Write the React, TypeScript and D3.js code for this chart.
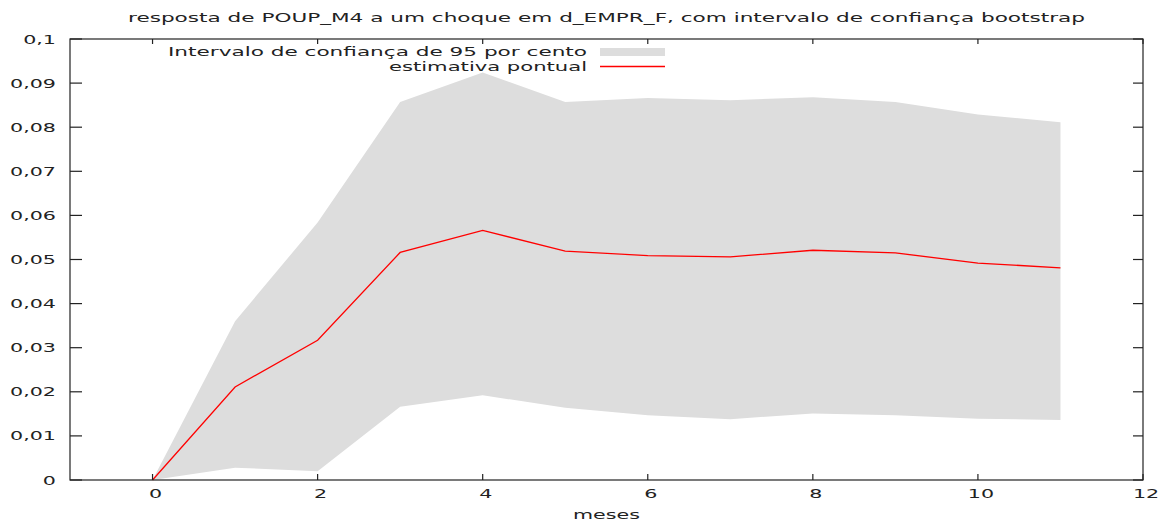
import React from 'react';
import * as d3 from 'd3';

// horizons (meses) and the bootstrap response
const meses = [0, 1, 2, 3, 4, 5, 6, 7, 8, 9, 10, 11];
const estimativa = [0, 0.0211, 0.0317, 0.0516, 0.0566, 0.0519, 0.0509, 0.0506, 0.0521, 0.0515, 0.0492, 0.0481];
const superior = [0, 0.0360, 0.0584, 0.0857, 0.0924, 0.0857, 0.0866, 0.0861, 0.0868, 0.0857, 0.0829, 0.0811];
const inferior = [0, 0.0028, 0.0020, 0.0166, 0.0192, 0.0164, 0.0147, 0.0138, 0.0151, 0.0147, 0.0139, 0.0136];
const xTicks = [0, 2, 4, 6, 8, 10, 12];

const TITLE = 'resposta de POUP_M4 a um choque em d_EMPR_F, com intervalo de confiança bootstrap';
const LEG_BAND = 'Intervalo de confiança de 95 por cento';
const LEG_LINE = 'estimativa pontual';

const W = 1167;
const H = 521;
const margin = { top: 39, right: 24, bottom: 41, left: 70 };
const FONT = '"DejaVu Sans", Verdana, sans-serif';
const TXT = '#222';
const SX = 1.65; // the picture is stretched horizontally

const fmtY = (v: number) => String(+v.toFixed(2)).replace('.', ',');

const App = () => {
  const x = d3.scaleLinear().domain([-1, 12]).range([margin.left, W - margin.right]);
  const y = d3.scaleLinear().domain([0, 0.1]).range([H - margin.bottom, margin.top]);
  const x0 = x.range()[0], x1 = x.range()[1];
  const y0 = y.range()[0], y1 = y.range()[1];

  const rows = meses.map((m, i) => ({ m, est: estimativa[i], lo: inferior[i], hi: superior[i] }));

  const band = d3.area<any>()
    .x(d => x(d.m))
    .y0(d => y(d.lo))
    .y1(d => y(d.hi))(rows);

  const line = d3.line<any>()
    .x(d => x(d.m))
    .y(d => y(d.est))(rows);

  const yTicks = y.ticks(10);

  // stretched label, anchored at (tx, ty)
  const label = (key: string, tx: number, ty: number, s: string, anchor: string) => (
    <g key={key} transform={`translate(${tx},${ty}) scale(${SX},1)`}>
      <text textAnchor={anchor} fontSize={12.5} fill={TXT} fontFamily={FONT}>{s}</text>
    </g>
  );

  return (
    <div style={{ position: 'absolute', left: 0, top: 0 }}>
      <svg width={W} height={H} style={{ display: 'block', background: '#fff' }}>
        <text x={(x0 + x1) / 2} y={22} textAnchor="middle" fontSize={12.5} fill={TXT}
          fontFamily={FONT} textLength={957} lengthAdjust="spacingAndGlyphs">{TITLE}</text>

        <path d={band || ''} fill="#dddddd" />
        <path d={line || ''} fill="none" stroke="#ff0000" strokeWidth={1.3} />

        {/* border */}
        <rect x={x0} y={y1} width={x1 - x0} height={y0 - y1} fill="none" stroke="#222" strokeWidth={1.2} />

        {/* y ticks, mirrored */}
        {yTicks.map(t => (
          <g key={'y' + t}>
            <line x1={x0} x2={x0 + 12} y1={y(t)} y2={y(t)} stroke="#222" strokeWidth={1.2} />
            <line x1={x1} x2={x1 - 10} y1={y(t)} y2={y(t)} stroke="#222" strokeWidth={1.2} />
            {label('yl' + t, 56, y(t) + 4.5, fmtY(t), 'end')}
          </g>
        ))}

        {/* x ticks, mirrored */}
        {xTicks.map(t => (
          <g key={'x' + t}>
            <line x1={x(t)} x2={x(t)} y1={y0} y2={y0 - 6} stroke="#222" strokeWidth={1.2} />
            <line x1={x(t)} x2={x(t)} y1={y1} y2={y1 + 5} stroke="#222" strokeWidth={1.2} />
            {label('xl' + t, x(t) + 3, 498, String(t), 'middle')}
          </g>
        ))}

        {label('xlab', (x0 + x1) / 2, 519, 'meses', 'middle')}

        {/* legend */}
        <text x={587} y={56} textAnchor="end" fontSize={12.5} fill={TXT} fontFamily={FONT}
          textLength={419} lengthAdjust="spacingAndGlyphs">{LEG_BAND}</text>
        <rect x={600} y={48} width={65} height={8} fill="#dddddd" />
        <text x={587} y={71} textAnchor="end" fontSize={12.5} fill={TXT} fontFamily={FONT}
          textLength={198} lengthAdjust="spacingAndGlyphs">{LEG_LINE}</text>
        <line x1={600} x2={665} y1={66.5} y2={66.5} stroke="#ff0000" strokeWidth={1.3} />
      </svg>
    </div>
  );
};

export default App;
